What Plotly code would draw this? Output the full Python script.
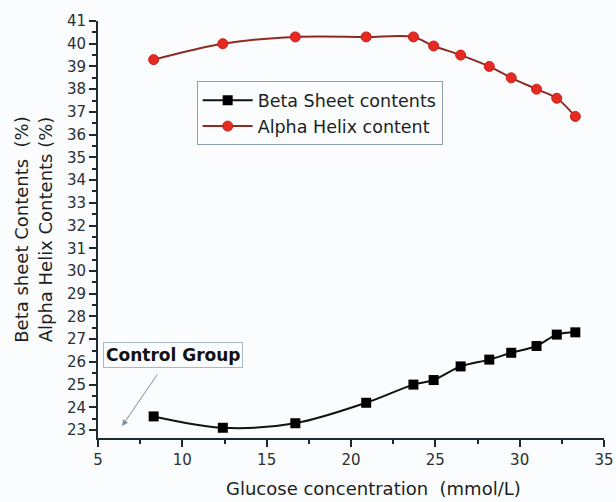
import plotly.graph_objects as go

# Data
glucose = [8.3, 12.4, 16.7, 20.9, 23.7, 24.9, 26.5, 28.2, 29.5, 31.0, 32.2, 33.3]
beta_sheet = [23.6, 23.1, 23.3, 24.2, 25.0, 25.2, 25.8, 26.1, 26.4, 26.7, 27.2, 27.3]
alpha_helix = [39.3, 40.0, 40.3, 40.3, 40.3, 39.9, 39.5, 39.0, 38.5, 38.0, 37.6, 36.8]

series_names = ["Beta Sheet contents", "Alpha Helix content"]
x_title = "Glucose concentration  (mmol/L)"
y_title_lines = ["Beta sheet Contents\u00a0\u00a0(%)", "Alpha Helix Contents (%)"]
control_label = "Control Group"

FONT = "DejaVu Sans, Arial, sans-serif"
BG = "#fbfcfe"
AX = "#1e2a30"

fig = go.Figure()
fig.add_trace(go.Scatter(
    x=glucose, y=beta_sheet, name=series_names[0],
    mode="lines+markers",
    line=dict(color="#111111", width=2, shape="spline", smoothing=0.9),
    marker=dict(symbol="square", size=10, color="#000000"),
))
fig.add_trace(go.Scatter(
    x=glucose, y=alpha_helix, name=series_names[1],
    mode="lines+markers",
    line=dict(color="#8e2a22", width=2, shape="spline", smoothing=0.9),
    marker=dict(symbol="circle", size=10, color="#e52a22",
                line=dict(color="#c8201a", width=1)),
))

fig.update_layout(
    width=616, height=502,
    margin=dict(l=98, r=12, t=21, b=64),
    paper_bgcolor=BG, plot_bgcolor=BG,
    font=dict(family=FONT, color="#2a2f33"),
    showlegend=True,
    legend=dict(
        x=0.195, y=0.855, xanchor="left", yanchor="top",
        bgcolor=BG, bordercolor="#8fa0b0", borderwidth=1,
        font=dict(size=17.5, color="#1a1f22", family=FONT),
        itemwidth=50, tracegroupgap=0,
    ),
    xaxis=dict(
        range=[5, 35], dtick=5, tick0=5, automargin=False,
        showline=True, linecolor=AX, linewidth=2,
        ticks="outside", ticklen=7, tickwidth=1.5, tickcolor=AX,
        minor=dict(dtick=2.5, ticks="outside", ticklen=4, tickcolor=AX, tickwidth=1.5),
        showgrid=False, zeroline=False, mirror=False,
        tickfont=dict(size=15, color="#2a2f33", family=FONT),
    ),
    yaxis=dict(
        range=[22.65, 41], dtick=1, tick0=23, automargin=False,
        showline=True, linecolor=AX, linewidth=2,
        ticks="outside", ticklen=7, tickwidth=1.5, tickcolor=AX,
        minor=dict(dtick=0.5, ticks="outside", ticklen=4, tickcolor=AX, tickwidth=1.5),
        showgrid=False, zeroline=False, mirror=False,
        tickfont=dict(size=15, color="#2a2f33", family=FONT),
        title=dict(text="<br>".join(y_title_lines), standoff=10,
                   font=dict(size=18, color="#1a1f22", family=FONT)),
    ),
)

# x-axis title
fig.add_annotation(
    text=x_title, xref="paper", yref="paper", x=0.545, y=-0.122,
    xanchor="center", yanchor="middle", showarrow=False,
    font=dict(size=18, color="#1a1f22", family=FONT),
)

# Control Group label
fig.add_annotation(
    text="<b>" + control_label + "</b>", xref="x", yref="y", x=9.46, y=26.29,
    xanchor="center", yanchor="middle", showarrow=False,
    font=dict(size=17, color="#111111", family=FONT),
    bordercolor="#a7b8c8", borderwidth=1, borderpad=2, bgcolor=BG,
)
# Arrow to the control point
fig.add_annotation(
    text="", xref="x", yref="y", x=6.43, y=23.18,
    axref="x", ayref="y", ax=8.57, ay=25.5,
    showarrow=True, arrowhead=2, arrowsize=1.2, arrowwidth=1, arrowcolor="#7b8fa3",
)

fig.write_html(
    "out.html",
    config={"displayModeBar": False},
    post_script="document.body.style.margin='0';document.body.style.padding='0';"
                "document.body.style.background='" + BG + "';",
)
